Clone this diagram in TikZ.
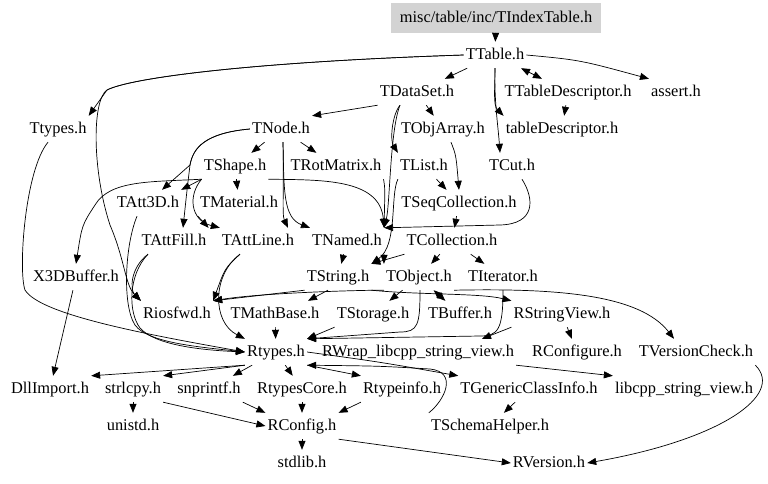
\documentclass[tikz,border=0pt]{standalone}
\usepackage{fontspec}
\setmainfont{Liberation Serif}
\usetikzlibrary{arrows.meta}
\definecolor{rootgray}{RGB}{211,211,211}
\begin{document}
\begin{tikzpicture}[x=1pt,y=-1pt,
  font=\fontsize{16.4}{18}\selectfont,
  hn/.style={inner xsep=2pt, inner ysep=0pt, minimum height=26pt, text height=11.5pt, text depth=3.5pt},
  ed/.style={-{Triangle[length=9pt,width=7pt]}, line width=0.7pt},
  edb/.style={{Triangle[length=9pt,width=7pt]}-{Triangle[length=9pt,width=7pt]}, line width=0.7pt}]
\useasboundingbox (0,0) rectangle (768,483);
\node[hn, fill=rootgray, minimum width=210pt, minimum height=30pt] (idx) at (496,18) {misc/table/inc/TIndexTable.h};
\node[hn] (ttable) at (495,55) {TTable.h};
\node[hn] (tdataset) at (417,92) {TDataSet.h};
\node[hn] (ttabledesc) at (568,92) {TTableDescriptor.h};
\node[hn] (assert) at (676,92) {assert.h};
\node[hn] (ttypes) at (58,129) {Ttypes.h};
\node[hn] (tnode) at (281,129) {TNode.h};
\node[hn] (tobjarray) at (443,129) {TObjArray.h};
\node[hn] (tabledesc) at (562,129) {tableDescriptor.h};
\node[hn] (tshape) at (235,166) {TShape.h};
\node[hn] (trotmatrix) at (336,166) {TRotMatrix.h};
\node[hn] (tlist) at (424,166) {TList.h};
\node[hn] (tcut) at (512,166) {TCut.h};
\node[hn] (tatt3d) at (148,203) {TAtt3D.h};
\node[hn] (tmaterial) at (239,203) {TMaterial.h};
\node[hn] (tseqcoll) at (459,203) {TSeqCollection.h};
\node[hn] (tattfill) at (174,241) {TAttFill.h};
\node[hn] (tattline) at (258,241) {TAttLine.h};
\node[hn] (tnamed) at (347,241) {TNamed.h};
\node[hn] (tcollection) at (452,241) {TCollection.h};
\node[hn] (x3dbuffer) at (76,277) {X3DBuffer.h};
\node[hn] (tstring) at (338,277) {TString.h};
\node[hn] (tobject) at (419,277) {TObject.h};
\node[hn] (titerator) at (503,277) {TIterator.h};
\node[hn] (riosfwd) at (177,314) {Riosfwd.h};
\node[hn] (tmathbase) at (275,314) {TMathBase.h};
\node[hn] (tstorage) at (373,314) {TStorage.h};
\node[hn] (tbuffer) at (460,314) {TBuffer.h};
\node[hn] (rstringview) at (562,314) {RStringView.h};
\node[hn] (rtypes) at (276,352) {Rtypes.h};
\node[hn] (rwrap) at (418,352) {RWrap\_libcpp\_string\_view.h};
\node[hn] (rconfigure) at (577,352) {RConfigure.h};
\node[hn] (tversioncheck) at (696,352) {TVersionCheck.h};
\node[hn] (dllimport) at (50,389) {DllImport.h};
\node[hn] (strlcpy) at (133,389) {strlcpy.h};
\node[hn] (snprintf) at (209,389) {snprintf.h};
\node[hn] (rtypescore) at (302,389) {RtypesCore.h};
\node[hn] (rtypeinfo) at (402,389) {Rtypeinfo.h};
\node[hn] (tgeneric) at (529,389) {TGenericClassInfo.h};
\node[hn] (libcpp) at (684,389) {libcpp\_string\_view.h};
\node[hn] (unistd) at (133,426) {unistd.h};
\node[hn] (rconfig) at (302,426) {RConfig.h};
\node[hn] (tschema) at (490,426) {TSchemaHelper.h};
\node[hn] (stdlib) at (302,463) {stdlib.h};
\node[hn] (rversion) at (549,463) {RVersion.h};
% top
\draw[ed] (idx) -- (ttable);
\draw[ed] (ttable) -- (tdataset);
\draw[edb] (ttable) -- (ttabledesc);
\draw[ed] (ttable.east) .. controls (580,60) .. (assert.north west);
\draw[ed] (ttable.west) .. controls (250,62) and (130,78) .. (107,90) -- (ttypes.north east);
\draw[ed] (ttable.west) .. controls (250,62) and (130,78) .. (107,90) .. controls (92,100) and (92,170) .. (110,225) .. controls (125,260) and (125,285) .. (riosfwd.north west);
\draw[ed] (ttable.south) .. controls (494,100) and (498,125) .. ([xshift=-12pt]tcut.north);
\draw[ed] (ttable.south) .. controls (495,90) and (493,105) .. (tabledesc.north west);
\draw[ed] (ttabledesc) -- (tabledesc);
\draw[ed] (tdataset) -- (tobjarray);
\draw[ed] (tdataset.south west) -- (tnode.north east);
\draw[ed] ([xshift=-17pt]tdataset.south) .. controls (392,115) and (390,140) .. (tlist.north west);
\draw[ed] ([xshift=-17pt]tdataset.south) .. controls (390,130) and (390,205) .. (tnamed.north east);
\draw[ed] ([xshift=8pt]tobjarray.south) .. controls (456,155) .. (tseqcoll.north);
\draw[ed] (tlist) -- (tseqcoll);
\draw[ed] (tlist.south west) .. controls (390,195) and (398,245) .. (tstring.north east);
\draw[ed] ([xshift=10pt]tcut.south) .. controls (535,200) and (535,224) .. (500,225) -- (tnamed.north east);
\draw[ed] (tseqcoll) -- (tcollection);
\draw[ed] (tcollection.south west) -- (tstring.north east);
\draw[ed] (tcollection) -- (tobject);
\draw[ed] (tcollection) -- (titerator);
\draw[ed] (tnamed) -- (tstring);
\draw[ed] (tnamed.south east) -- (tobject.north west);
% TNode / TShape
\draw[ed] (tnode) -- (tshape);
\draw[ed] (tnode) -- (trotmatrix);
\draw[ed] (tnode.west) .. controls (205,133) and (193,148) .. (190,165) -- ([xshift=14pt]tatt3d.north);
\draw[ed] (tnode.west) .. controls (205,133) and (193,148) .. (190,165) .. controls (187,190) .. ([xshift=9pt]tattfill.north);
\draw[ed] ([xshift=2pt]tnode.south) .. controls (284,190) and (282,215) .. ([xshift=30pt]tattline.north);
\draw[ed] ([xshift=2pt]tnode.south) .. controls (284,190) and (283,218) .. (tnamed.north west);
\draw[ed] (tshape) -- (tmaterial);
\draw[ed] (tshape.south west) -- (tatt3d.north east);
\draw[ed] (tshape.south west) .. controls (150,182) and (110,180) .. (95,205) .. controls (82,225) .. (x3dbuffer.north);
\draw[ed] (tshape.south west) .. controls (188,195) and (190,220) .. (tattline.north west);
\draw[ed] (tshape.south east) .. controls (320,180) and (380,178) .. (tnamed.north east);
\draw[ed] (trotmatrix.south east) .. controls (385,188) .. (tnamed.north east);
\draw[ed] (tmaterial.south west) -- (tattfill.north east);
% left bundle
\draw[ed] ([xshift=-11pt]tatt3d.south) .. controls (125,245) and (122,305) .. (135,325) .. controls (148,343) and (200,347) .. (rtypes.west);
\draw[ed] ([xshift=-26pt]tattfill.south) .. controls (130,268) and (130,290) .. (riosfwd.north west);
\draw[ed] ([xshift=-26pt]tattfill.south) .. controls (128,275) and (128,312) .. (140,328) .. controls (155,345) and (200,350) .. (rtypes.west);
\draw[ed] ([xshift=-10pt]ttypes.south) .. controls (25,170) and (18,270) .. (25,290) .. controls (40,315) and (150,335) .. (rtypes.west);
\draw[ed] ([xshift=-18pt]tattline.south) .. controls (225,268) .. (riosfwd.north east);
\draw[ed] ([xshift=-18pt]tattline.south) .. controls (212,275) and (212,322) .. (rtypes.north west);
\draw[ed] (x3dbuffer) -- (dllimport);
% TString / TObject
\draw[ed] (tstring.south west) -- (riosfwd.north east);
\draw[ed] ([xshift=-10pt]tstring.south) -- ([xshift=33pt]tmathbase.north);
\draw[ed] (tstring.south east) .. controls (420,295) and (480,293) .. (rstringview.north west);
\draw[ed] (tobject.south west) .. controls (360,290) and (260,293) .. (riosfwd.north east);
\draw[ed] (tobject) -- (tstorage);
\draw[edb] (tobject) -- (tbuffer);
\draw[ed] ([xshift=1pt]tobject.south) .. controls (420,325) and (418,332) .. (400,332) -- (rtypes.north east);
\draw[ed] (titerator.south) .. controls (503,330) and (498,336) .. (480,336) -- (rtypes.north east);
\draw[ed] (tobject.south east) .. controls (560,288) and (640,295) .. ([xshift=-22pt]tversioncheck.north);
\draw[ed] (tstorage.south west) -- (rtypes.north east);
\draw[ed] (tmathbase) -- (rtypes);
\draw[ed] (rstringview) -- (rconfigure);
\draw[ed] (rstringview.south west) -- ([xshift=64pt]rwrap.north);
\draw[ed] (rwrap.south east) -- (libcpp.north west);
% Rtypes
\draw[ed] (rtypes.south west) -- (dllimport.north east);
\draw[ed] (rtypes.south west) -- (strlcpy.north east);
\draw[ed] (rtypes) -- (snprintf);
\draw[ed] (rtypes) -- (rtypescore);
\draw[ed] (rtypes.south east) -- (rtypeinfo.north west);
\draw[ed] (rtypes.east) .. controls (380,362) .. (tgeneric.north west);
\draw[ed] (tschema.north west) .. controls (445,400) and (458,372) .. (430,369) .. controls (380,366) .. (rtypes.south east);
\draw[ed] (tgeneric) -- (tschema);
\draw[ed] (strlcpy) -- (unistd);
\draw[ed] (strlcpy.south east) -- (rconfig.west);
\draw[ed] (snprintf.south east) -- (rconfig.north west);
\draw[ed] (rtypescore) -- (rconfig);
\draw[ed] (rtypeinfo.south west) -- (rconfig.north east);
\draw[ed] (rconfig) -- (stdlib);
\draw[ed] (rconfig.south east) -- (rversion.west);
\draw[ed] (tversioncheck.south east) .. controls (785,395) and (720,440) .. (rversion.east);
\end{tikzpicture}
\end{document}
